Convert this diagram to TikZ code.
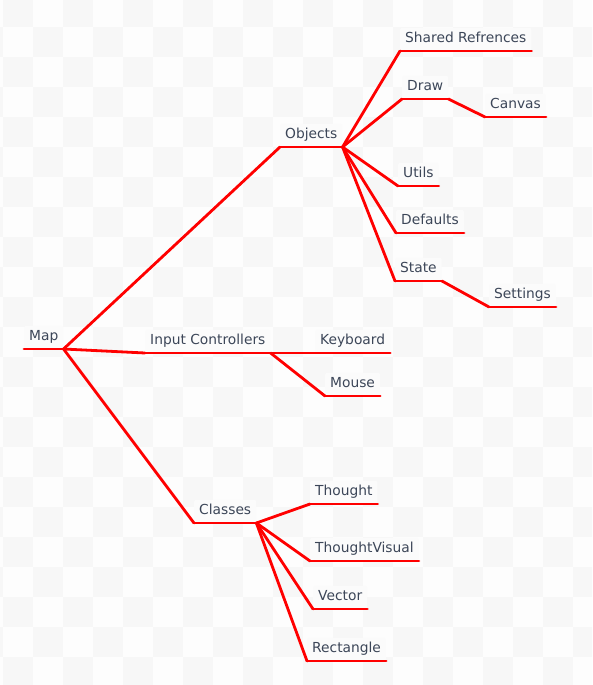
\documentclass[tikz,border=0pt]{standalone}
\usepackage{fontspec}
\setmainfont{DejaVu Sans}
\usepackage{tikz}
\usepackage{xcolor}

\definecolor{cellgray}{HTML}{F7F7F7}
\definecolor{celllight}{HTML}{FDFDFD}
\definecolor{labelfill}{HTML}{FBFBFB}
\definecolor{labeltext}{HTML}{3C4658}
\definecolor{branchred}{HTML}{FF0000}

\tikzset{
  topic/.style={anchor=south west, fill=labelfill, rounded corners=2pt, text=labeltext,
    font=\fontsize{13.8}{16}\selectfont, inner xsep=5pt, inner ysep=5pt,
    text height=10pt, text depth=3pt},
  branch/.style={draw=branchred, line width=2.8pt, line cap=round, line join=round}
}

\begin{document}
\begin{tikzpicture}[x=1pt, y=-1pt]
% background
\useasboundingbox (0,0) rectangle (592,685);
\begin{scope}
\clip (0,0) rectangle (592,685);
\fill[celllight] (0,0) rectangle (592,685);
\foreach \i in {-1,...,19}{
  \foreach \j in {-1,...,23}{
    \pgfmathtruncatemacro\k{mod(\i+\j+2,2)}
    \ifnum\k=0
      \fill[cellgray] (3.3+30*\i,-3.3+30*\j) rectangle +(30,30);
    \fi
  }
}
\end{scope}

% root
\node[topic] (map) at (24,349) {Map};

% objects
\node[topic] (objects) at (280,147) {Objects};
\node[topic] (shared) at (400,51) {Shared Refrences};
\node[topic] (draw) at (402,99) {Draw};
\node[topic] (canvas) at (485,117) {Canvas};
\node[topic] (utils) at (398,186) {Utils};
\node[topic] (defaults) at (396,233) {Defaults};
\node[topic] (state) at (395,281) {State};
\node[topic] (settings) at (489,307) {Settings};

% input
\node[topic] (input) at (145,353) {Input Controllers};
\node[topic] (keyboard) at (315,353) {Keyboard};
\node[topic] (mouse) at (325,396) {Mouse};

% classes
\node[topic] (classes) at (194,523) {Classes};
\node[topic] (thought) at (310,504) {Thought};
\node[topic] (visual) at (310,561) {ThoughtVisual};
\node[topic] (vector) at (313,609) {Vector};
\node[topic] (rect) at (307,661) {Rectangle};

% underlines
\foreach \n in {map,objects,shared,draw,canvas,utils,defaults,state,settings,
  input,keyboard,mouse,classes,thought,visual,vector,rect}
  \draw[branch] (\n.south west) -- (\n.south east);

% connectors
\foreach \a/\b in {map/objects,map/input,map/classes,
  objects/shared,objects/draw,objects/utils,objects/defaults,objects/state,
  draw/canvas,state/settings,input/keyboard,input/mouse,
  classes/thought,classes/visual,classes/vector,classes/rect}
  \draw[branch] (\a.south east) -- (\b.south west);
\end{tikzpicture}
\end{document}
